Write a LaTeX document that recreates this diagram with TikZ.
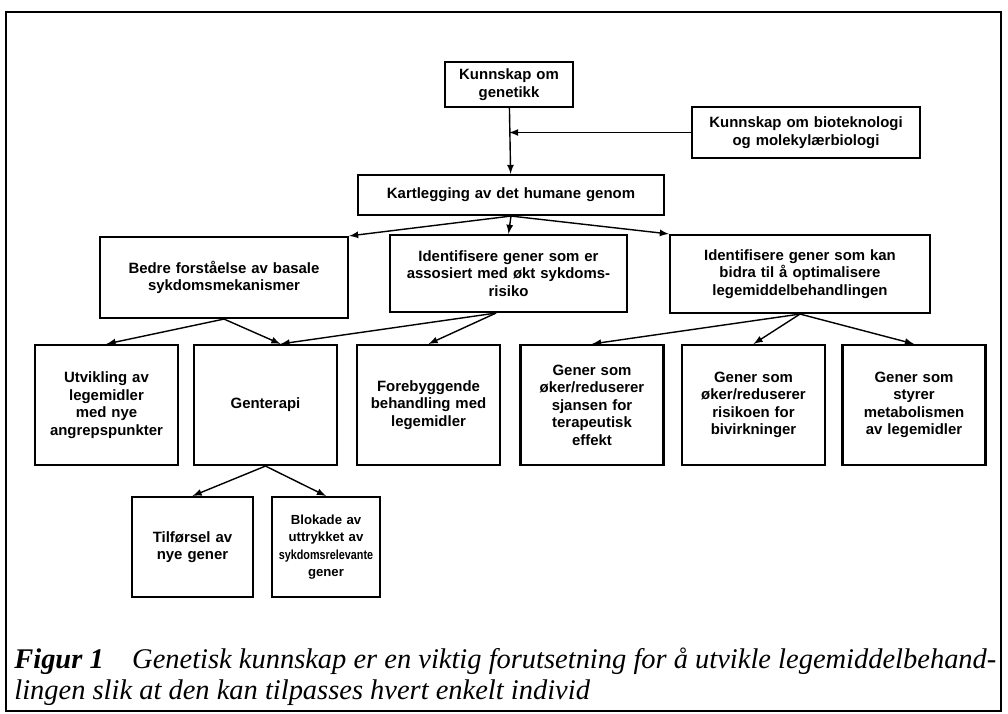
\documentclass[tikz,border=0pt]{standalone}
\usepackage{fontspec}
\setmainfont{Liberation Serif}
\setsansfont{Liberation Sans}
\usepackage{tikz}

\begin{document}
\begin{tikzpicture}[>=latex,
  box/.style 2 args={draw, line width=1.2pt, fill=white, align=center, inner sep=0pt,
    text width=#1, minimum height=#2, font=\sffamily\bfseries\fontsize{8.5}{10}\selectfont}]

\useasboundingbox (0,0) rectangle (20.16,-14.26);

% outer frame
\draw[line width=1.5pt] (0.12,-0.24) rectangle (20.02,-14.22);

% knowledge nodes
\node[box={2.56cm}{0.9cm}] (genetics) at (10.18,-1.69) {Kunnskap om\\genetikk};
\node[box={4.56cm}{1.02cm}] (biotech) at (16.12,-2.65) {Kunnskap om bioteknologi\\og molekylærbiologi};

% genome mapping node
\node[box={6.12cm}{0.8cm}] (mapping) at (10.22,-3.9) {Kartlegging av det humane genom};

\coordinate (join) at (genetics.south |- biotech.west);
\draw[thick,->] (genetics) -- (mapping);
\draw[thick,->] (biotech) -- (join);

% second row
\node[box={4.96cm}{1.62cm}] (basic) at (4.48,-5.55) {Bedre forståelse av basale\\sykdomsmekanismer};
\node[box={4.74cm}{1.54cm}] (risk) at (10.17,-5.47) {Identifisere gener som er\\assosiert med økt sykdoms-\\risiko};
\node[box={5.2cm}{1.56cm}] (optimize) at (16.0,-5.48) {Identifisere gener som kan\\bidra til å optimalisere\\legemiddelbehandlingen};

\draw[thick,->] (mapping.south) -- (basic.north east);
\draw[thick,->] (mapping.south) -- (risk.north);
\draw[thick,->] (mapping.south) -- (optimize.north west);

% third row
\node[box={2.86cm}{2.4cm}] (newdrugs) at (2.13,-8.1) {Utvikling av\\legemidler\\med nye\\angrepspunkter};
\node[box={2.86cm}{2.4cm}] (therapy) at (5.31,-8.1) {Genterapi};
\node[box={2.86cm}{2.4cm}] (prevent) at (8.57,-8.1) {Forebyggende\\behandling med\\legemidler};
\node[box={2.86cm}{2.4cm}] (effect) at (11.84,-8.1) {Gener som\\øker/reduserer\\sjansen for\\terapeutisk\\effekt};
\node[box={2.86cm}{2.4cm}] (sideeff) at (15.07,-8.1) {Gener som\\øker/reduserer\\risikoen for\\bivirkninger};
\node[box={2.86cm}{2.4cm}] (metab) at (18.28,-8.1) {Gener som\\styrer\\metabolismen\\av legemidler};

\draw[thick,->] (basic.south) -- (newdrugs.north);
\draw[thick,->] (basic.south) -- ([xshift=0.3cm]therapy.north);
\draw[thick,->] ([xshift=-0.25cm]risk.south) -- ([xshift=0.3cm]therapy.north);
\draw[thick,->] ([xshift=-0.25cm]risk.south) -- (prevent.north);
\draw[thick,->] (optimize.south) -- (effect.north);
\draw[thick,->] (optimize.south) -- (sideeff.north);
\draw[thick,->] (optimize.south) -- (metab.north);

% gene therapy nodes
\node[box={2.42cm}{2.0cm}] (newgenes) at (3.85,-10.94) {Tilførsel av\\nye gener};
\node[box={2.16cm}{2.0cm}, font=\sffamily\bfseries\fontsize{7.5}{10}\selectfont] (block) at (6.52,-10.94) {Blokade av\\uttrykket av\\\scalebox{0.82}[1]{sykdomsrelevante}\\gener};

\draw[thick,->] (therapy.south) -- (newgenes.north);
\draw[thick,->] (therapy.south) -- (block.north);

% caption
\node[anchor=north west, align=left, inner sep=0pt, font=\itshape\fontsize{16.2}{17.6}\selectfont] (caption) at (0.28,-12.95)
  {\textbf{Figur 1}\quad Genetisk kunnskap er en viktig forutsetning for å utvikle legemiddelbehand-\\lingen slik at den kan tilpasses hvert enkelt individ};

\end{tikzpicture}
\end{document}
